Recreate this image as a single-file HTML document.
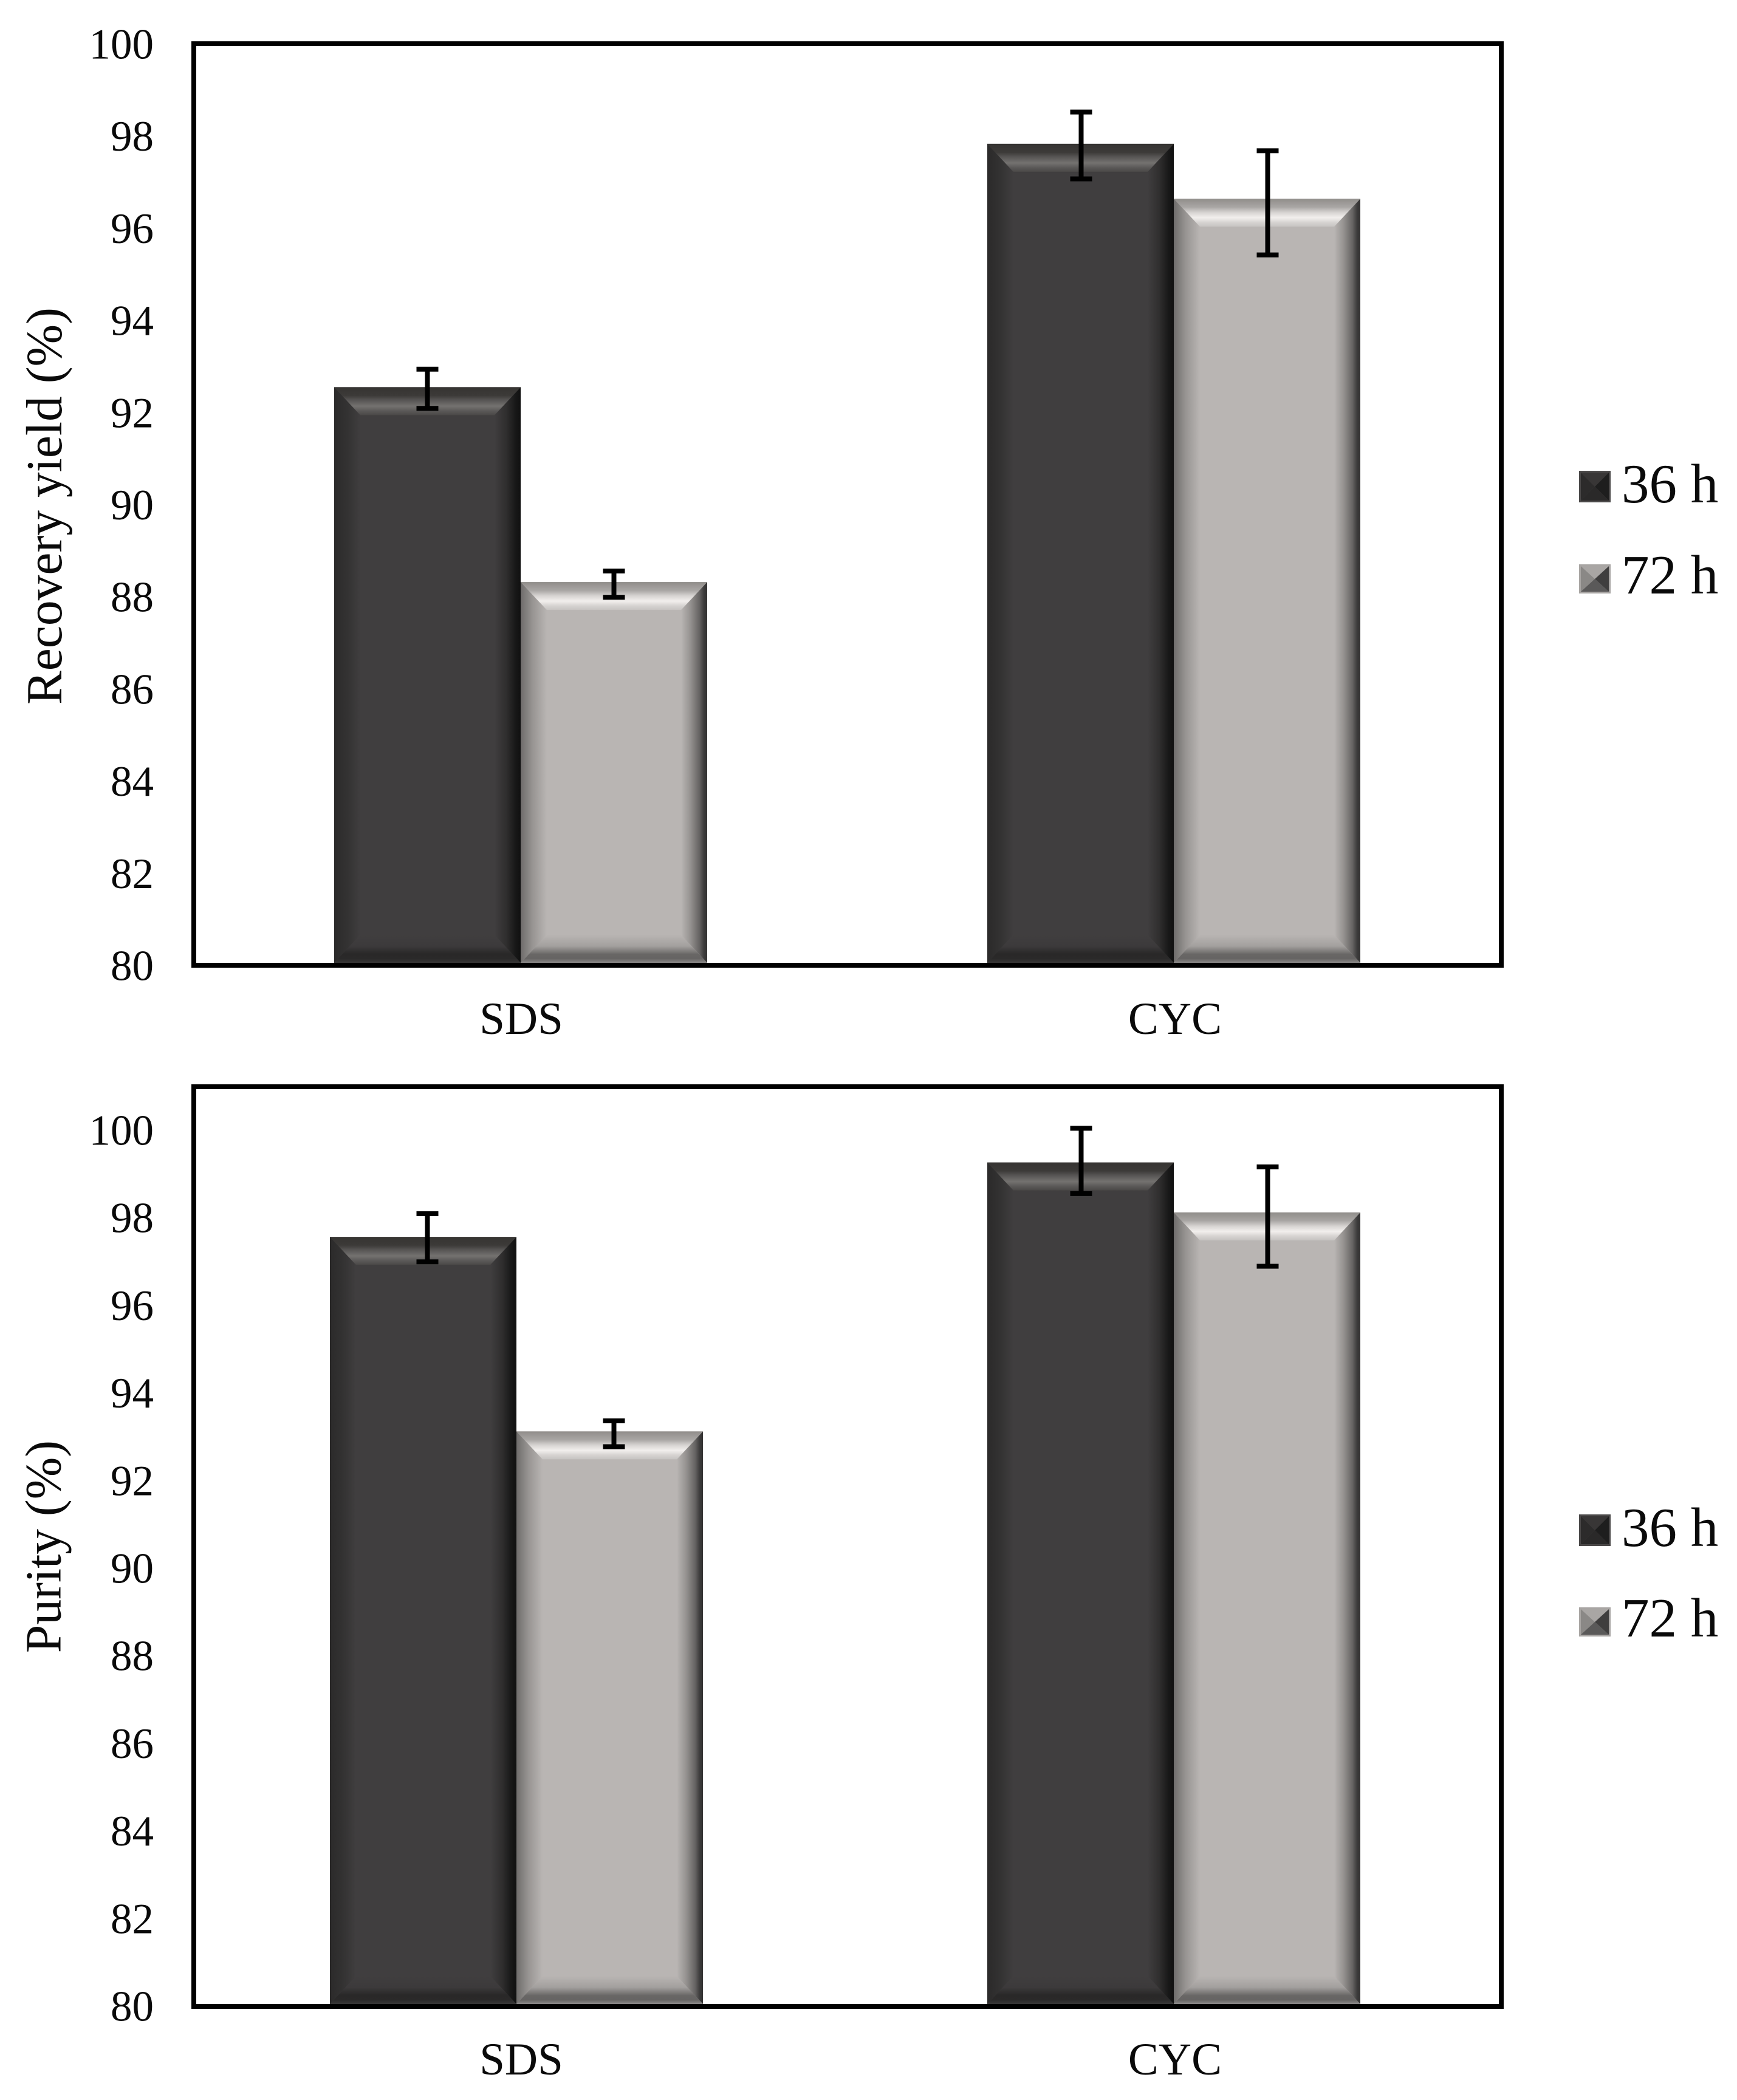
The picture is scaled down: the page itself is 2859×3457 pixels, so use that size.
<!DOCTYPE html>
<html lang="en">
<head>
<meta charset="utf-8">
<title>Recovery yield and purity bar charts</title>
<style>
html,body{margin:0;padding:0;background:#fff;width:2859px;height:3457px;overflow:hidden}
svg{display:block;position:absolute;left:0;top:0}
text{font-family:"Liberation Serif","Times New Roman",serif;fill:#0a0a0a}
</style>
</head>
<body>
<svg id="figure" xmlns="http://www.w3.org/2000/svg" width="2859" height="3457" viewBox="0 0 2859 3457">
<defs>
<linearGradient id="dark-top" x1="0" y1="0" x2="0" y2="1">
<stop offset="0" stop-color="#363432"/><stop offset=".3" stop-color="#3c3a38"/><stop offset=".45" stop-color="#555352"/><stop offset=".68" stop-color="#747270"/><stop offset=".85" stop-color="#5b5958"/><stop offset="1" stop-color="#4a4847"/>
</linearGradient>
<linearGradient id="dark-bottom" x1="0" y1="0" x2="0" y2="1">
<stop offset="0" stop-color="#403e3f"/><stop offset=".4" stop-color="#3c3a3b"/><stop offset=".68" stop-color="#292828"/><stop offset=".85" stop-color="#2a2929"/><stop offset="1" stop-color="#383737"/>
</linearGradient>
<linearGradient id="dark-left" x1="0" y1="0" x2="1" y2="0">
<stop offset="0" stop-color="#2b2a2a"/><stop offset=".5" stop-color="#333232"/><stop offset="1" stop-color="#403e3f"/>
</linearGradient>
<linearGradient id="dark-right" x1="0" y1="0" x2="1" y2="0">
<stop offset="0" stop-color="#403e3f"/><stop offset=".45" stop-color="#2f2e2e"/><stop offset=".8" stop-color="#181818"/><stop offset="1" stop-color="#101010"/>
</linearGradient>
<linearGradient id="light-top" x1="0" y1="0" x2="0" y2="1">
<stop offset="0" stop-color="#908d8a"/><stop offset=".3" stop-color="#a9a6a4"/><stop offset=".5" stop-color="#d8d5d3"/><stop offset=".68" stop-color="#f2efed"/><stop offset=".85" stop-color="#d6d3d1"/><stop offset="1" stop-color="#c6c3c1"/>
</linearGradient>
<linearGradient id="light-bottom" x1="0" y1="0" x2="0" y2="1">
<stop offset="0" stop-color="#b9b5b3"/><stop offset=".4" stop-color="#a3a09e"/><stop offset=".7" stop-color="#686665"/><stop offset=".85" stop-color="#666463"/><stop offset="1" stop-color="#8b8988"/>
</linearGradient>
<linearGradient id="light-left" x1="0" y1="0" x2="1" y2="0">
<stop offset="0" stop-color="#6e6c6b"/><stop offset=".45" stop-color="#979492"/><stop offset="1" stop-color="#b9b5b3"/>
</linearGradient>
<linearGradient id="light-right" x1="0" y1="0" x2="1" y2="0">
<stop offset="0" stop-color="#b9b5b3"/><stop offset=".35" stop-color="#969391"/><stop offset=".7" stop-color="#666463"/><stop offset=".88" stop-color="#3c3b3b"/><stop offset="1" stop-color="#333232"/>
</linearGradient>
</defs>
</svg>
<script>
const categories = ["SDS", "CYC"];
const seriesNames = ["36 h", "72 h"];
const yTickLabels = [80, 82, 84, 86, 88, 90, 92, 94, 96, 98, 100];

const recoveryMean36h = [92.56, 97.84];
const recoveryMean72h = [88.33, 96.65];
const recoveryErrHigh36h = [92.95, 98.53];
const recoveryErrLow36h = [92.10, 97.08];
const recoveryErrHigh72h = [88.57, 97.69];
const recoveryErrLow72h = [88.00, 95.43];

const purityMean36h = [97.57, 99.27];
const purityMean72h = [93.13, 98.13];
const purityErrHigh36h = [98.10, 100.05];
const purityErrLow36h = [97.00, 98.56];
const purityErrHigh72h = [93.37, 99.17];
const purityErrLow72h = [92.78, 96.90];

const svg = document.getElementById('figure');
const NS = 'http://www.w3.org/2000/svg';

function make(tag, parent, props) {
  const el = document.createElementNS(NS, tag);
  for (const k in props) el.setAttribute(k, props[k]);
  parent.appendChild(el);
  return el;
}

function trapezoid(parent, pts, fill) {
  return make('polygon', parent, {
    points: pts.map(p => p[0] + ',' + p[1]).join(' '),
    fill: fill
  });
}

function drawBar(parent, x, top, w, bottom, tone) {
  const h = Math.min(46, (bottom - top) / 2);
  const ins = 43;
  const r = x + w;
  make('rect', parent, {x: x, y: top, width: w, height: bottom - top, fill: tone === 'dark' ? '#403e3f' : '#b9b5b3'});
  trapezoid(parent, [[x, top], [x + ins, top + h], [x + ins, bottom - h], [x, bottom]], 'url(#' + tone + '-left)');
  trapezoid(parent, [[r - ins, top + h], [r, top], [r, bottom], [r - ins, bottom - h]], 'url(#' + tone + '-right)');
  trapezoid(parent, [[x, top], [r, top], [r - ins, top + h], [x + ins, top + h]], 'url(#' + tone + '-top)');
  trapezoid(parent, [[x + ins, bottom - h], [r - ins, bottom - h], [r, bottom], [x, bottom]], 'url(#' + tone + '-bottom)');
}

function drawChart(cfg) {
  const left = 319, right = 2471, barW = 307, capW = 36;
  const g = make('g', svg, {});
  
  

  const yScale = v => cfg.y80 - (v - 80) * cfg.unit;
  const xBand = i => left + (i + 0.5) * (right - left) / categories.length;
  const base = cfg.frameBottom - 4;

  make('rect', g, {x: left, y: cfg.frameTop, width: right - left, height: cfg.frameBottom - cfg.frameTop, fill: '#fff'});

  const series = [
    {tone: 'dark', mean: cfg.mean36, hi: cfg.hi36, lo: cfg.lo36, offset: -barW, label: '36h'},
    {tone: 'light', mean: cfg.mean72, hi: cfg.hi72, lo: cfg.lo72, offset: 0, label: '72h'}
  ];

  categories.forEach((cat, i) => {
    series.forEach(s => {
      const barGroup = make('g', g, {});
      
      
      drawBar(barGroup, xBand(i) + cfg.barShift[i] + s.offset, yScale(s.mean[i]), barW, base, s.tone);
    });
  });

  categories.forEach((cat, i) => {
    series.forEach(s => {
      const cx = xBand(i) + s.offset + barW / 2;
      const errGroup = make('g', g, {stroke: '#000', 'stroke-width': 8, fill: 'none'});
      
      
      make('line', errGroup, {x1: cx, x2: cx, y1: yScale(s.hi[i]), y2: yScale(s.lo[i])});
      make('line', errGroup, {x1: cx - capW / 2, x2: cx + capW / 2, y1: yScale(s.hi[i]), y2: yScale(s.hi[i])});
      make('line', errGroup, {x1: cx - capW / 2, x2: cx + capW / 2, y1: yScale(s.lo[i]), y2: yScale(s.lo[i])});
    });
  });

  const frame = make('rect', g, {x: left, y: cfg.frameTop, width: right - left, height: cfg.frameBottom - cfg.frameTop, fill: 'none', stroke: '#000', 'stroke-width': 8});
  
  

  yTickLabels.forEach(v => {
    const t = make('text', g, {x: 253, y: yScale(v) + 23.5, 'text-anchor': 'end', 'font-size': 71});
    
    
    t.textContent = v;
  });

  categories.forEach((cat, i) => {
    const t = make('text', g, {x: xBand(i) + 1, y: cfg.xLabelBaseline, 'text-anchor': 'middle', 'font-size': 75});
    
    
    t.textContent = cat;
  });

  const title = make('text', g, {
    transform: 'translate(' + cfg.titleX + ' ' + cfg.titleY + ') rotate(-90)',
    'text-anchor': 'middle', 'font-size': cfg.titleSize
  });
  
  
  title.textContent = cfg.title;

  const legend = make('g', g, {});
  
  
  seriesNames.forEach((label, i) => {
    const tone = i === 0 ? 'dark' : 'light';
    const base_ = cfg.legendBaselines[i];
    const size = i === 0 ? 52 : 48;
    const entry = make('g', legend, {});
    
    
    const x0 = 2599, y0 = base_ - size, r = x0 + 52, b = y0 + size, mx = x0 + 26, my = y0 + size / 2;
    make('rect', entry, {x: x0, y: y0, width: 52, height: size, fill: tone === 'dark' ? '#4a4848' : '#a8a5a3'});
    trapezoid(entry, [[x0 + 3, y0 + 3], [mx, my], [x0 + 3, b - 3]], tone === 'dark' ? '#2c2b2b' : '#8a8886');
    trapezoid(entry, [[r - 3, y0 + 3], [mx, my], [r - 3, b - 3]], tone === 'dark' ? '#1e1e1e' : '#3f3e3e');
    trapezoid(entry, [[x0 + 3, b - 3], [mx, my], [r - 3, b - 3]], tone === 'dark' ? '#2a2929' : '#5a5959');
    trapezoid(entry, [[x0 + 3, y0 + 3], [mx, my], [r - 3, y0 + 3]], tone === 'dark' ? '#383636' : '#a9a6a4');
    const t = make('text', entry, {x: 2669, y: base_, 'font-size': 91});
    t.textContent = label;
  });
}

drawChart({
  name: 'recovery-yield-chart', title: 'Recovery yield (%)', titleSize: 83.5,
  y80: 1590, unit: 75.85, frameTop: 72, frameBottom: 1589,
  barShift: [0, -1], xLabelBaseline: 1702, titleX: 101, titleY: 833,
  legendBaselines: [827, 977],
  mean36: recoveryMean36h, mean72: recoveryMean72h,
  hi36: recoveryErrHigh36h, lo36: recoveryErrLow36h,
  hi72: recoveryErrHigh72h, lo72: recoveryErrLow72h
});

drawChart({
  name: 'purity-chart', title: 'Purity (%)', titleSize: 83.5,
  y80: 3303, unit: 72.1, frameTop: 1789, frameBottom: 3303,
  barShift: [-7, -1], xLabelBaseline: 3415, titleX: 99.5, titleY: 2546,
  legendBaselines: [2545, 2694],
  mean36: purityMean36h, mean72: purityMean72h,
  hi36: purityErrHigh36h, lo36: purityErrLow36h,
  hi72: purityErrHigh72h, lo72: purityErrLow72h
});
</script>
</body>
</html>
